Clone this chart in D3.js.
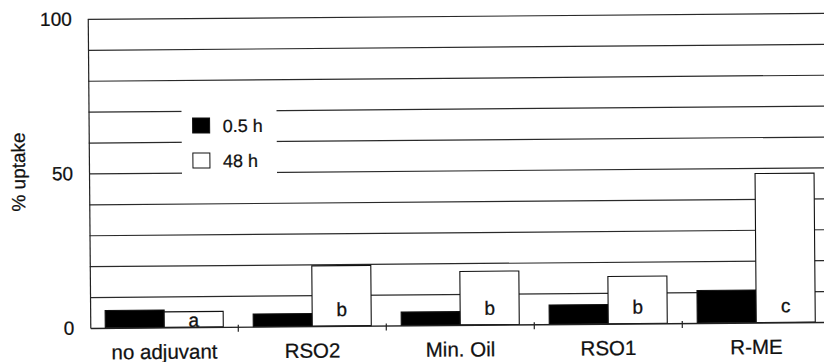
<!DOCTYPE html>
<html>
<head>
<meta charset="utf-8">
<script src="https://cdn.jsdelivr.net/npm/d3@7"></script>
<style>
  html, body { margin: 0; padding: 0; background: #fff; }
  svg { display: block; font-family: "Liberation Sans", Arial, sans-serif; }
</style>
</head>
<body>
<svg id="chart" width="824" height="362"></svg>
<script>
// Uptake (%) for each adjuvant treatment at two sampling times
const treatments = ["no adjuvant", "RSO2", "Min. Oil", "RSO1", "R-ME"];
const times = ["0.5 h", "48 h"];
const uptakeEarly = [5.6, 4.1, 4.3, 6.2, 10.5];
const uptakeLate = [5.0, 19.5, 17.3, 15.3, 48.2];
const groupLetters = ["a", "b", "b", "b", "c"];
const yTickLabels = [0, 50, 100];
const gridValues = [10, 20, 30, 40, 50, 60, 70, 80, 90, 100];

const svg = d3.select("#chart");
const margin = { left: 89, top: 16, bottom: 325, right: 829 };

const x = d3.scaleBand().domain(treatments).range([margin.left, margin.right]).padding(0);
const xSub = d3.scaleBand().domain(times).range([0, x.bandwidth()])
  .paddingInner(0).paddingOuter(0.254);
const y = d3.scaleLinear().domain([0, 100]).range([margin.bottom, margin.top]);

const fills = { "0.5 h": "#000", "48 h": "#fff" };
const ink = "#111";

// whole figure sits with a slight tilt
const g = svg.append("g").attr("transform", "rotate(-0.47, 450, 170)");

// horizontal grid lines
const grid = g.append("g")
  .attr("transform", `translate(${margin.left},0)`)
  .call(d3.axisLeft(y).tickValues(gridValues)
    .tickSize(-(margin.right - margin.left)).tickFormat(""));
grid.select(".domain").remove();
grid.selectAll(".tick line").attr("stroke", "#2a2a2a").attr("stroke-width", 1.2);

// legend background interrupts the grid
g.append("rect").attr("x", 182).attr("y", 90).attr("width", 95).attr("height", 95)
  .attr("fill", "#fff");

// bars
const rows = treatments.map((t, i) => ({
  treatment: t,
  values: [
    { time: times[0], v: uptakeEarly[i] },
    { time: times[1], v: uptakeLate[i] }
  ],
  letter: groupLetters[i],
  late: uptakeLate[i]
}));

const groups = g.append("g").selectAll("g").data(rows).join("g")
  .attr("transform", d => `translate(${x(d.treatment)},0)`);

groups.selectAll("rect").data(d => d.values).join("rect")
  .attr("x", d => xSub(d.time))
  .attr("y", d => y(d.v))
  .attr("width", xSub.bandwidth())
  .attr("height", d => y(0) - y(d.v))
  .attr("fill", d => fills[d.time])
  .attr("stroke", ink)
  .attr("stroke-width", 1.1);

// significance letters inside the 48 h bars
groups.append("text")
  .attr("x", xSub(times[1]) + xSub.bandwidth() / 2)
  .attr("y", d => Math.max(y(0) - 10, y(d.late) + 15))
  .attr("text-anchor", "middle")
  .attr("font-size", 19)
  .attr("fill", ink)
  .attr("stroke", ink).attr("stroke-width", 0.3)
  .text(d => d.letter);

// y axis with labels
const yAxis = g.append("g")
  .attr("transform", `translate(${margin.left},0)`)
  .call(d3.axisLeft(y).tickValues(yTickLabels).tickSize(0).tickSizeOuter(0).tickPadding(16));
yAxis.select(".domain").attr("stroke", "#222").attr("stroke-width", 1.2);
yAxis.selectAll("text").attr("font-size", 19).attr("fill", ink)
  .attr("stroke", ink).attr("stroke-width", 0.25)
  .attr("font-family", "'Liberation Sans', Arial, sans-serif");

// x axis baseline, category labels and boundary ticks
const xAxis = g.append("g")
  .attr("transform", `translate(0,${y(0)})`)
  .call(d3.axisBottom(x).tickSize(0).tickSizeOuter(0).tickPadding(17));
xAxis.select(".domain").attr("stroke", "#222").attr("stroke-width", 1.4);
xAxis.selectAll("text").attr("font-size", 20.5).attr("fill", ink)
  .attr("stroke", ink).attr("stroke-width", 0.25)
  .attr("font-family", "'Liberation Sans', Arial, sans-serif");

g.append("g").selectAll("line").data(treatments.slice(1)).join("line")
  .attr("x1", d => x(d)).attr("x2", d => x(d))
  .attr("y1", y(0) - 2).attr("y2", y(0) + 5)
  .attr("stroke", "#222").attr("stroke-width", 1.2);

// y axis title
g.append("text")
  .attr("transform", `translate(25,${(y(0) + y(100)) / 2 - 2}) rotate(-90)`)
  .attr("text-anchor", "middle")
  .attr("font-size", 19)
  .attr("fill", ink)
  .attr("stroke", ink).attr("stroke-width", 0.25)
  .text("% uptake");

// legend
const legend = g.append("g").selectAll("g").data(times).join("g")
  .attr("transform", (d, i) => `translate(193,${116 + i * 35})`);
legend.append("rect")
  .attr("width", 17).attr("height", 15)
  .attr("fill", d => fills[d]).attr("stroke", ink).attr("stroke-width", 1);
legend.append("text")
  .attr("x", 30).attr("y", 8).attr("dy", "0.35em")
  .attr("font-size", 18).attr("fill", ink)
  .attr("stroke", ink).attr("stroke-width", 0.25)
  .text(d => d);
</script>
</body>
</html>
